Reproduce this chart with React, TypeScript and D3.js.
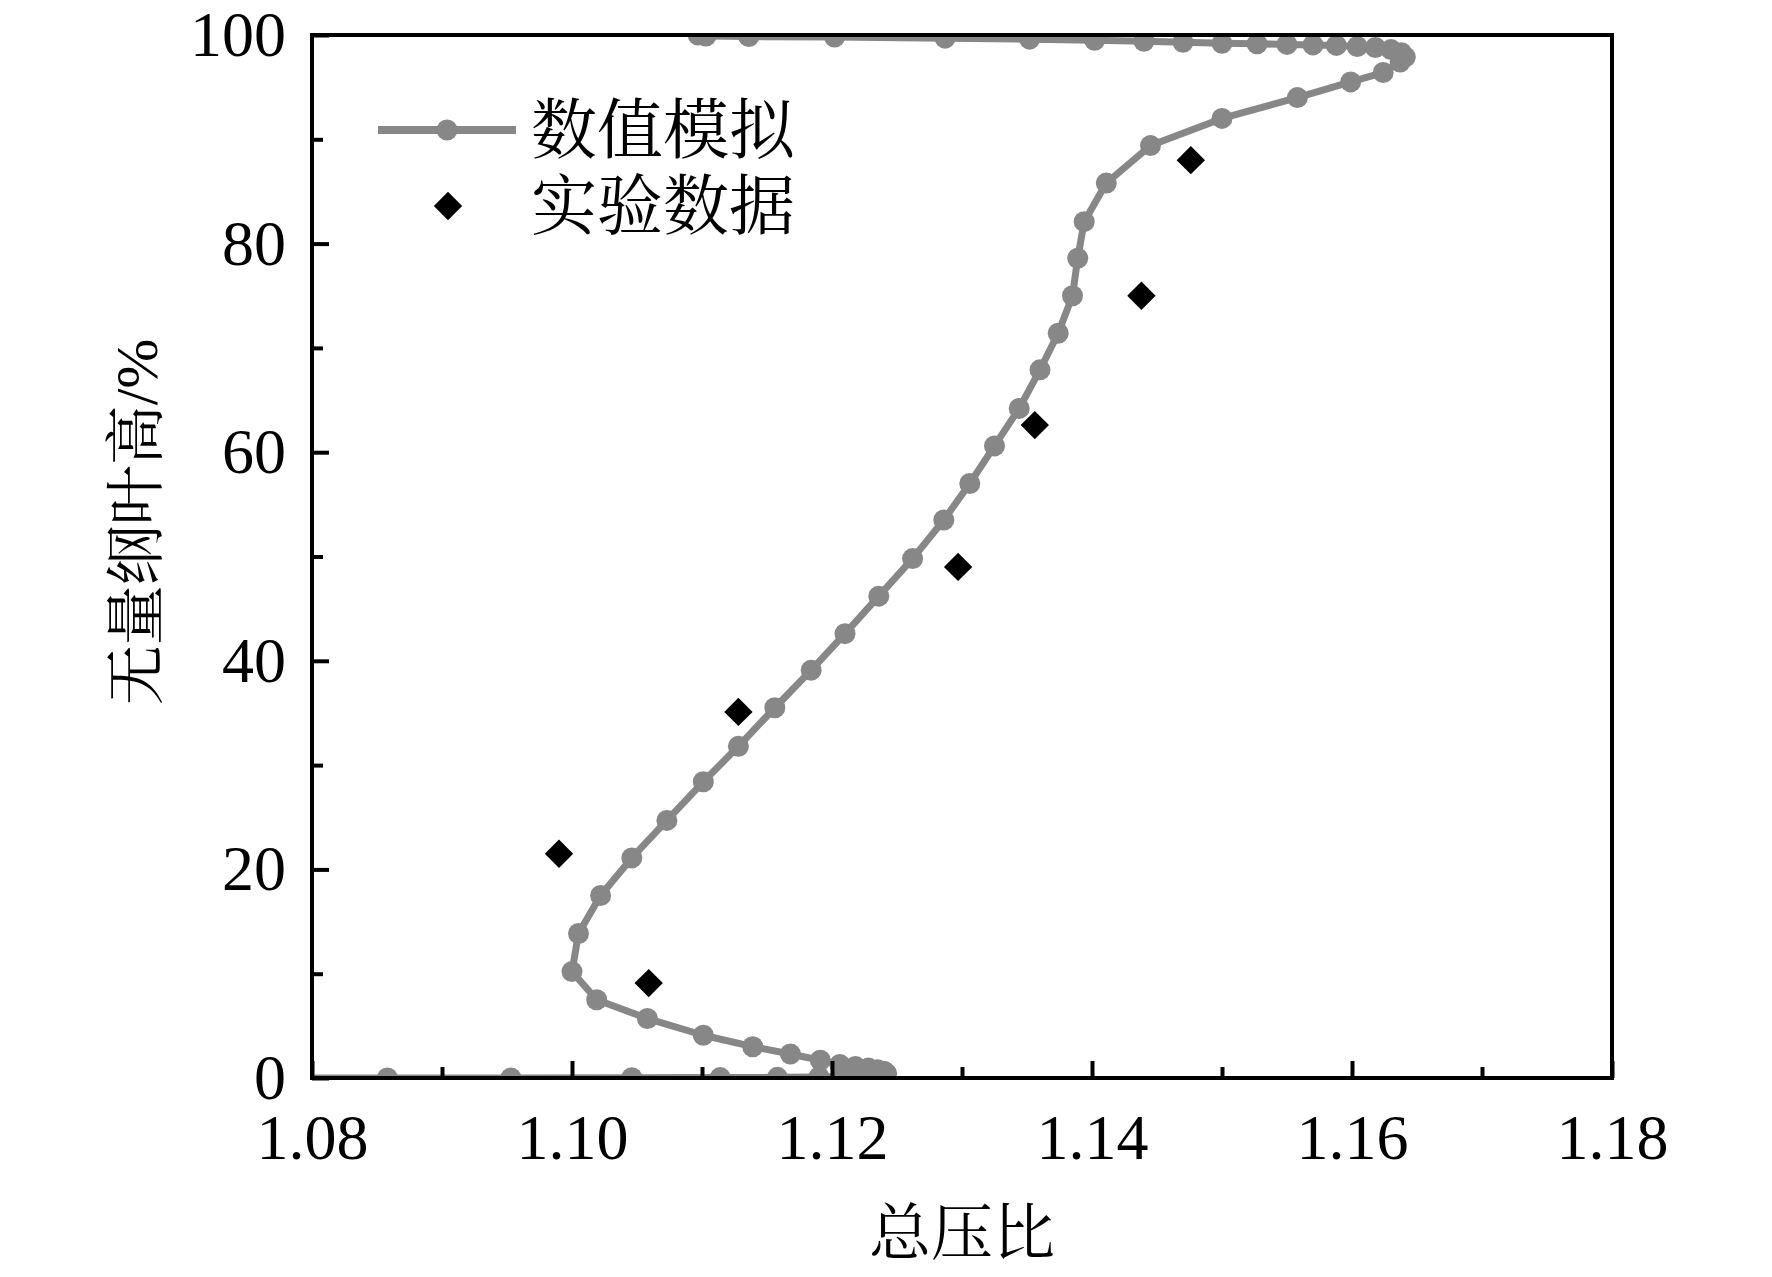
import { useEffect, useRef } from "react"
import * as d3 from "d3"

// simulation profile, hub (0%) to tip (100%)
const simX = [
  1.0764, 1.0858, 1.0953, 1.1046, 1.1114, 1.1158, 1.119, 1.1212, 1.1228, 1.1238, 1.1242, 1.124, 1.1235,
  1.1228, 1.1218, 1.1206, 1.1191, 1.1168, 1.1139, 1.1101, 1.1058, 1.1019, 1.1, 1.1005, 1.1022, 1.1046,
  1.1073, 1.1101, 1.1128, 1.1156, 1.1184, 1.121, 1.1236, 1.1262, 1.1286, 1.1306, 1.1325, 1.1344, 1.136,
  1.1374, 1.1385, 1.1389, 1.1394, 1.1411, 1.1445, 1.15, 1.1558, 1.1599, 1.1624, 1.1637, 1.1641, 1.1638,
  1.163, 1.1618, 1.1604, 1.1588, 1.157, 1.155, 1.1527, 1.15, 1.147, 1.144, 1.1402, 1.1352, 1.1287,
  1.1202, 1.1136, 1.1103, 1.1097,
]
const simY = [
  0, 0, 0, 0.02, 0.04, 0.06, 0.1, 0.15, 0.2, 0.3, 0.45, 0.65, 0.8, 0.95, 1.1, 1.3, 1.7, 2.3, 3.0, 4.1,
  5.7, 7.5, 10.2, 13.85, 17.5, 21.1, 24.7, 28.4, 31.8, 35.5, 39.1, 42.6, 46.2, 49.8, 53.5, 57.0, 60.6,
  64.2, 67.9, 71.4, 75.0, 78.6, 82.1, 85.8, 89.4, 92.0, 94.0, 95.5, 96.4, 97.4, 97.9, 98.3, 98.6, 98.8,
  98.9, 99.0, 99.05, 99.1, 99.15, 99.2, 99.3, 99.4, 99.5, 99.6, 99.7, 99.8, 99.85, 99.9, 100,
]

// experiment
const expX = [1.099, 1.1059, 1.1128, 1.1297, 1.1356, 1.1438, 1.1476]
const expY = [21.5, 9.1, 35.1, 49.0, 62.6, 75.0, 88.0]

const xMajor = [1.08, 1.1, 1.12, 1.14, 1.16, 1.18]
const xMinor = [1.09, 1.11, 1.13, 1.15, 1.17]
const yMajor = [0, 20, 40, 60, 80, 100]
const yMinor = [10, 30, 50, 70, 90]

const legendLabels = ["数值模拟", "实验数据"]
const xTitle = "总压比"
const yTitle = "无量纲叶高/%"

const W = 1772
const H = 1277
const margin = { top: 35, right: 160, bottom: 199, left: 312 }
const FONT = "'Liberation Serif', 'Times New Roman', 'Noto Serif CJK SC', 'Noto Sans CJK SC', serif"
const GREY = "#878787"

export default function App() {
  const svgRef = useRef(null)

  useEffect(() => {
    document.body.style.margin = "0"
    const svgEl = d3.select(svgRef.current)
    svgEl.selectAll("*").remove()

    const iw = W - margin.left - margin.right
    const ih = H - margin.top - margin.bottom

    const x = d3.scaleLinear().domain([1.08, 1.18]).range([0, iw])
    const y = d3.scaleLinear().domain([0, 100]).range([ih, 0])

    svgEl.append("rect").attr("width", W).attr("height", H).attr("fill", "#fff")

    const g = svgEl.append("g").attr("transform", `translate(${margin.left},${margin.top})`)

    g.append("defs")
      .append("clipPath")
      .attr("id", "plot-clip")
      .append("rect")
      .attr("width", iw)
      .attr("height", ih)

    const sim = simX.map((v, i) => ({ x: v, y: simY[i] }))
    const exp = expX.map((v, i) => ({ x: v, y: expY[i] }))

    const plot = g.append("g").attr("clip-path", "url(#plot-clip)")

    const line = d3
      .line()
      .x((d) => x(d.x))
      .y((d) => y(d.y))

    plot
      .append("path")
      .datum(sim)
      .attr("d", line)
      .attr("fill", "none")
      .attr("stroke", GREY)
      .attr("stroke-width", 7)
      .attr("stroke-linejoin", "round")

    plot
      .selectAll(".sim-pt")
      .data(sim)
      .enter()
      .append("circle")
      .attr("cx", (d) => x(d.x))
      .attr("cy", (d) => y(d.y))
      .attr("r", 10.5)
      .attr("fill", GREY)

    // symbolDiamond2 is a square turned 45deg; area 512 -> half diagonal 16
    const diamond = d3.symbol().type(d3.symbolDiamond2).size(512)

    plot
      .selectAll(".exp-pt")
      .data(exp)
      .enter()
      .append("path")
      .attr("d", diamond)
      .attr("transform", (d) => `translate(${x(d.x)},${y(d.y)})`)
      .attr("fill", "#000")

    // axes: major and minor ticks point inward
    const styleAxis = (sel) => {
      sel.select(".domain").remove()
      sel.selectAll("line").attr("stroke", "#000").attr("stroke-width", 4)
      sel.selectAll("text").attr("font-family", FONT).attr("font-size", 64).attr("fill", "#000")
    }

    g.append("g")
      .attr("transform", `translate(0,${ih})`)
      .call(d3.axisBottom(x).tickValues(xMajor).tickSize(-17).tickPadding(36).tickFormat(d3.format(".2f")))
      .call(styleAxis)
    g.append("g")
      .attr("transform", `translate(0,${ih})`)
      .call(d3.axisBottom(x).tickValues(xMinor).tickSize(-11).tickFormat(() => ""))
      .call(styleAxis)

    g.append("g")
      .call(d3.axisLeft(y).tickValues(yMajor).tickSize(-17).tickPadding(26).tickFormat(d3.format("d")))
      .call(styleAxis)
    g.append("g")
      .call(d3.axisLeft(y).tickValues(yMinor).tickSize(-11).tickFormat(() => ""))
      .call(styleAxis)

    g.append("rect")
      .attr("width", iw)
      .attr("height", ih)
      .attr("fill", "none")
      .attr("stroke", "#000")
      .attr("stroke-width", 4)

    // legend
    const lg = g.append("g").attr("transform", `translate(${378 - margin.left},${130 - margin.top})`)
    lg.append("line").attr("x1", 0).attr("x2", 138).attr("stroke", GREY).attr("stroke-width", 8)
    lg.append("circle").attr("cx", 69).attr("r", 10.5).attr("fill", GREY)
    lg.append("path")
      .attr("d", diamond)
      .attr("transform", "translate(70,76)")
      .attr("fill", "#000")
    lg.selectAll(".lg-text")
      .data(legendLabels)
      .enter()
      .append("text")
      .attr("x", 153)
      .attr("y", (d, i) => i * 76)
      .attr("dominant-baseline", "central")
      .attr("font-family", FONT)
      .attr("font-size", 66)
      .text((d) => d)

    // titles
    svgEl
      .append("text")
      .attr("x", margin.left + iw / 2)
      .attr("y", 1234)
      .attr("text-anchor", "middle")
      .attr("dominant-baseline", "central")
      .attr("font-family", FONT)
      .attr("font-size", 62)
      .text(xTitle)

    svgEl
      .append("text")
      .attr("transform", "translate(137,522) rotate(-90)")
      .attr("text-anchor", "middle")
      .attr("dominant-baseline", "central")
      .attr("font-family", FONT)
      .attr("font-size", 60)
      .text(yTitle)
  }, [])

  return <svg ref={svgRef} width={W} height={H} style={{ display: "block" }}></svg>
}
